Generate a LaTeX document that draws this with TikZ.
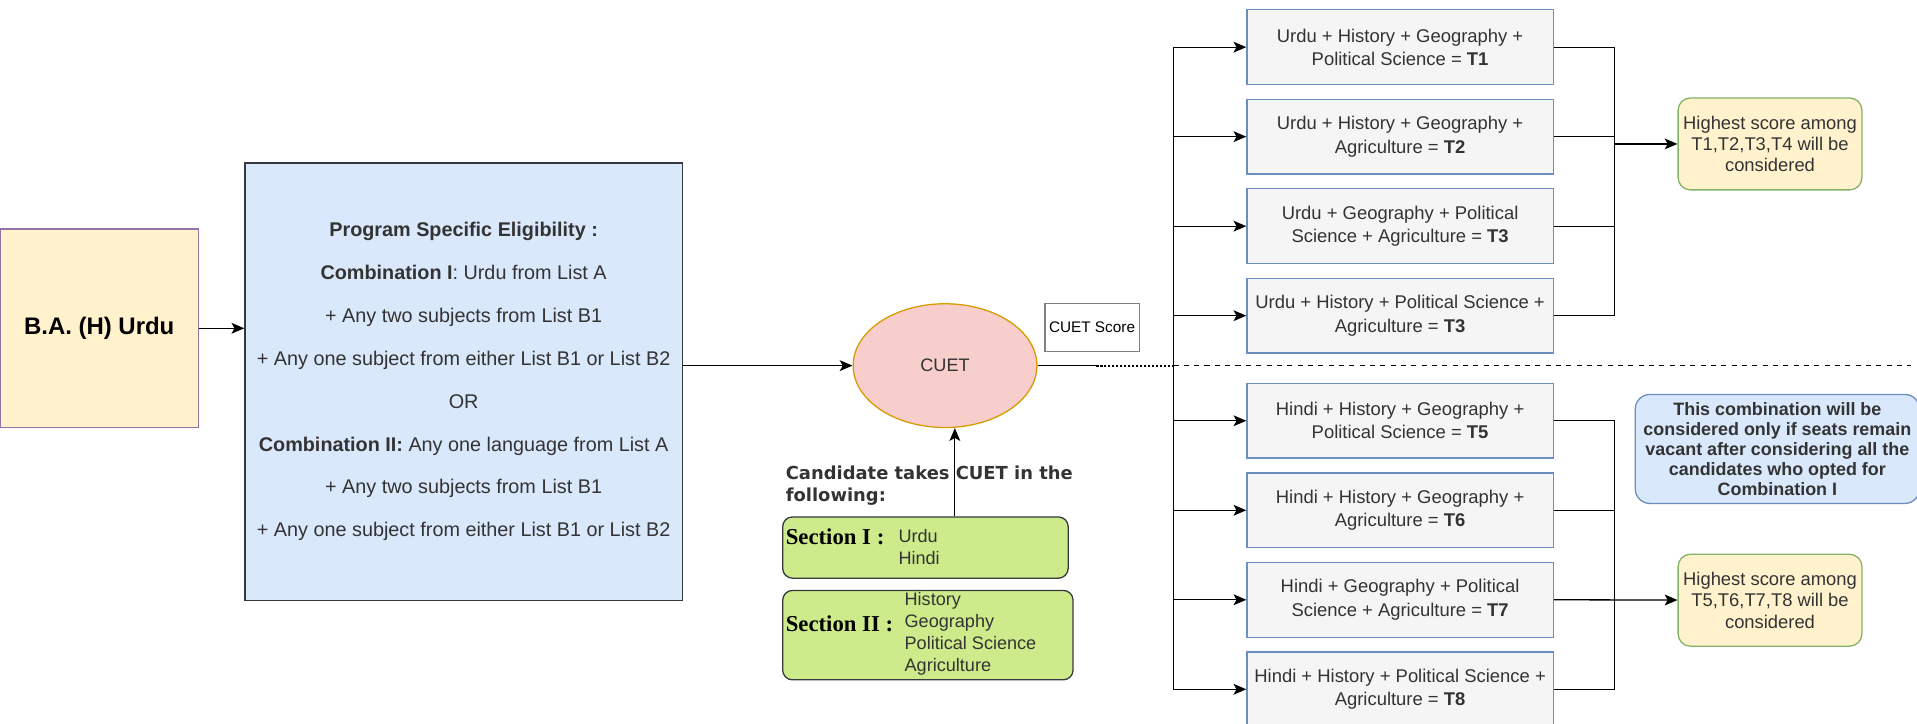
\documentclass[tikz,border=0pt]{standalone}
\usepackage{fontspec}
\setmainfont{Liberation Sans}
\newfontfamily\dejavu{DejaVu Sans}
\newfontfamily\secserif{Liberation Serif}
\usepackage{tikz}
\usetikzlibrary{positioning,shapes.geometric,arrows.meta}
\definecolor{progfill}{HTML}{FFF2CC}
\definecolor{progline}{HTML}{9673A6}
\definecolor{eligfill}{HTML}{DAE8FC}
\definecolor{darkline}{HTML}{36393D}
\definecolor{cuetfill}{HTML}{F8CECC}
\definecolor{cuetline}{HTML}{D79B00}
\definecolor{combofill}{HTML}{F5F5F5}
\definecolor{comboline}{HTML}{6C8EBF}
\definecolor{noteline}{HTML}{82B366}
\definecolor{secfill}{HTML}{CDEB8B}
\definecolor{textgray}{HTML}{333333}
\tikzset{
    prog/.style={draw=progline,fill=progfill,minimum width=4.05cm,minimum height=4.05cm,
                 font=\bfseries\fontsize{13.9}{16}\selectfont},
    elig/.style={draw=darkline,fill=eligfill,minimum width=8.925cm,minimum height=8.925cm,
                 align=center,text=textgray,font=\fontsize{11.5}{24.9}\selectfont},
    exam/.style={ellipse,draw=cuetline,fill=cuetfill,minimum width=3.75cm,minimum height=2.525cm,
                 inner sep=0pt,text=textgray,font=\fontsize{10.5}{12}\selectfont},
    score/.style={draw=gray,minimum width=1.925cm,minimum height=0.975cm,inner sep=1pt,
                  font=\fontsize{8.9}{10}\selectfont},
    combo/.style={draw=comboline,fill=combofill,minimum width=6.25cm,minimum height=1.525cm,
                  align=center,inner sep=1pt,text=textgray,font=\fontsize{10.7}{13.5}\selectfont},
    highnote/.style={draw=noteline,fill=progfill,rounded corners=0.25cm,minimum width=3.75cm,
                     minimum height=1.875cm,align=center,inner sep=1pt,
                     text=textgray,font=\fontsize{10.67}{12.45}\selectfont},
    vacantnote/.style={draw=comboline,fill=eligfill,rounded corners=0.3cm,minimum width=5.8cm,
                       minimum height=2.225cm,align=center,inner sep=1pt,text=textgray,
                       font=\bfseries\fontsize{10.4}{11.6}\selectfont},
    secbox/.style={draw=darkline,fill=secfill,rounded corners=0.2cm},
    seclabel/.style={inner sep=0pt,anchor=west,font=\secserif\bfseries\fontsize{13.2}{15}\selectfont},
    seclist/.style={inner sep=0pt,anchor=west,align=left,text=textgray,font=\fontsize{10.5}{12.8}\selectfont}
}
\begin{document}
\begin{tikzpicture}[x=0.025cm,y=-0.025cm,line width=0.75pt,>={Stealth[length=2.6mm,width=2.2mm,inset=0.6mm]},node distance=0.275cm]
    \useasboundingbox (0,0) rectangle (1565,591);
    % programme and eligibility
    \node[prog] (ba) at (81,268) {B.A. (H) Urdu};
    \node[elig] (elig) at (378.5,311.5) {\textbf{Program Specific Eligibility :}\\
        \textbf{Combination I}: Urdu from List A\\
        + Any two subjects from List B1\\
        + Any one subject from either List B1 or List B2\\
        OR\\
        \textbf{Combination II:} Any one language from List A\\
        + Any two subjects from List B1\\
        + Any one subject from either List B1 or List B2};
    \draw[->] (ba) -- (ba -| elig.west);
    % CUET
    \node[exam] (cuet) at (771.5,298.5) {CUET};
    \node[score] (score) at (891.5,267.5) {CUET Score};
    \draw[->] (cuet -| elig.east) -- (cuet);
    \node[anchor=west,align=left,inner sep=0pt,text=textgray,
          font=\dejavu\bfseries\fontsize{10.4}{12.6}\selectfont] (cand) at (641,396.5) {Candidate takes CUET in the\\following:};
    \node[secbox,minimum width=5.825cm,minimum height=1.25cm] (sec1) at (755.5,447) {};
    \node[secbox,minimum width=5.925cm,minimum height=1.825cm] (sec2) at (757.5,518.5) {};
    \node[seclabel] (s1lab) at (641,438) {Section I :};
    \node[seclist] (s1list) at (733,446.5) {Urdu\\Hindi};
    \node[seclabel] (s2lab) at (641,509) {Section II :};
    \node[seclist] (s2list) at (738,517.5) {History\\Geography\\Political Science\\Agriculture};
    \draw[->] ([xshift=0.6cm]sec1.north) -- ([xshift=0.6cm]sec1.north |- cuet.south);
    % combinations with Urdu
    \node[combo] (t1) at (1143,38.5) {Urdu + History + Geography +\\Political Science = \textbf{T1}};
    \node[combo,below=of t1] (t2) {Urdu + History + Geography +\\Agriculture = \textbf{T2}};
    \node[combo,below=of t2] (t3) {Urdu + Geography + Political\\Science + Agriculture = \textbf{T3}};
    \node[combo,below=of t3] (t4) {Urdu + History + Political Science +\\Agriculture = \textbf{T3}};
    % combinations with Hindi
    \node[combo] (t5) at (1143,343.5) {Hindi + History + Geography +\\Political Science = \textbf{T5}};
    \node[combo,below=of t5] (t6) {Hindi + History + Geography +\\Agriculture = \textbf{T6}};
    \node[combo,below=of t6] (t7) {Hindi + Geography + Political\\Science + Agriculture = \textbf{T7}};
    \node[combo,below=of t7] (t8) {Hindi + History + Political Science +\\Agriculture = \textbf{T8}};
    % notes
    \node[highnote] (high1) at (1445,117.5) {Highest score among\\T1,T2,T3,T4 will be\\considered};
    \node[highnote] (high2) at (1445,490) {Highest score among\\T5,T6,T7,T8 will be\\considered};
    \node[vacantnote] (vacant) at (1451,366.5) {This combination will be\\considered only if seats remain\\vacant after considering all the\\candidates who opted for\\Combination I};
    % trunk and separator
    \coordinate (split) at (895,298.5);
    \coordinate (trunk) at (958,298.5);
    \draw (cuet) -- (split);
    \draw[densely dotted,line width=1.3pt] (split) -- (trunk);
    \draw[dashed] (trunk) -- (1560,298.5);
    \draw (t1 -| trunk) -- (t8 -| trunk);
    \draw[->] (t1 -| trunk) -- (t1);
    \draw[->] (t2 -| trunk) -- (t2);
    \draw[->] (t3 -| trunk) -- (t3);
    \draw[->] (t4 -| trunk) -- (t4);
    \draw[->] (t5 -| trunk) -- (t5);
    \draw[->] (t6 -| trunk) -- (t6);
    \draw[->] (t7 -| trunk) -- (t7);
    \draw[->] (t8 -| trunk) -- (t8);
    % joining to the notes
    \coordinate (join) at (1318,298.5);
    \draw (t1.east) -- (t1 -| join) -- (t4 -| join) -- (t4.east);
    \draw (t2.east) -- (t2 -| join);
    \draw (t3.east) -- (t3 -| join);
    \draw[->] (high1 -| join) -- (high1);
    \draw (t5.east) -- (t5 -| join) -- (t8 -| join) -- (t8.east);
    \draw (t6.east) -- (t6 -| join);
    \draw[->] (t7.east) -- (high2);
\end{tikzpicture}
\end{document}
